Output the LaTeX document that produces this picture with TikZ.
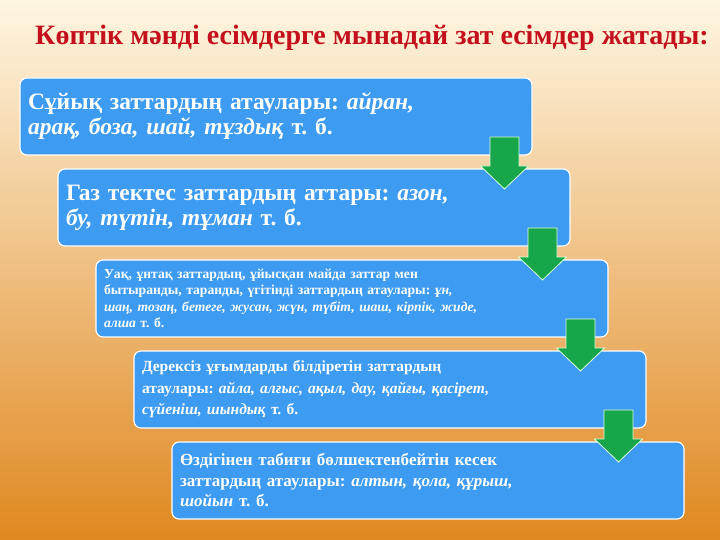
\documentclass[tikz,border=0pt]{standalone}
\usepackage{fontspec}
\setmainfont{Liberation Serif}
\usetikzlibrary{positioning,calc}
\definecolor{bgTop}{HTML}{FEF6E2}
\definecolor{bgMid}{HTML}{FBD055}
\definecolor{bgBot}{HTML}{E08820}
\definecolor{boxBlue}{HTML}{3D9BF2}
\definecolor{arrGreen}{HTML}{17A64A}
\definecolor{titleRed}{HTML}{C4101C}
\frenchspacing

\begin{document}
\begin{tikzpicture}[x=1pt, y=-1pt, node distance = 14pt,
BoxStyle/.style={draw=white, line width=1.2pt, fill=boxBlue, rounded corners=7pt,
                text=white, minimum width=512pt, minimum height=77pt, text width=496pt,
                inner xsep=8pt, inner ysep=0pt, align=left, outer sep=0pt},
DownArrow/.style={fill=arrGreen, draw=green!15, line width=0.8pt},]
\fill [top color=bgTop, middle color=bgMid, bottom color=bgBot] (0,0) rectangle (720,540);
\useasboundingbox (0,0) rectangle (720,540);
\node [font=\fontsize{28}{30}\selectfont\bfseries, text=titleRed] (title) at (372,38)
      {Көптік мәнді есімдерге мынадай зат есімдер жатады:};
\node [BoxStyle, anchor=north west, font=\fontsize{23.5}{25}\selectfont\bfseries] (b1) at (20,78)
      {Сұйық заттардың атаулары: \textit{айран,}\\ \textit{арақ, боза, шай, тұздық} т. б.};
\node [BoxStyle, below=of b1.south west, anchor=north west, xshift=38pt,
       font=\fontsize{23.5}{25}\selectfont\bfseries] (b2)
      {Газ тектес заттардың аттары: \textit{азон,}\\ \textit{бу, түтін, тұман} т. б.};
\node [BoxStyle, below=of b2.south west, anchor=north west, xshift=38pt,
       font=\fontsize{13.6}{16.5}\selectfont\bfseries] (b3)
      {Уақ, ұнтақ заттардың, ұйысқан майда заттар мен\\
       бытыранды, таранды, үгітінді заттардың атаулары: \textit{ұн,}\\
       \textit{шаң, тозаң, бетеге, жусан, жүн, түбіт, шаш, кірпік, жиде,}\\
       \textit{алша} т. б.};
\node [BoxStyle, below=of b3.south west, anchor=north west, xshift=38pt,
       font=\fontsize{15.5}{21.5}\selectfont\bfseries] (b4)
      {Дерексіз ұғымдарды білдіретін заттардың\\
       атаулары: \textit{айла, алғыс, ақыл, дау, қайғы, қасірет,}\\
       \textit{сүйеніш, шындық} т. б.};
\node [BoxStyle, below=of b4.south west, anchor=north west, xshift=38pt,
       font=\fontsize{17}{20.5}\selectfont\bfseries] (b5)
      {Өздігінен табиғи бөлшектенбейтін кесек\\
       заттардың атаулары: \textit{алтын, қола, құрыш,}\\
       \textit{шойын} т. б.};
% arrows between the boxes
\foreach \a/\b in {b1/b2, b2/b3, b3/b4, b4/b5}
  \draw [DownArrow] ($(\a.south east)+(-42,-18)$) -- ($(\a.south east)+(-13,-18)$)
        -- ($(\a.south east)+(-13,11)$) -- ($(\a.south east)+(-3.5,11)$)
        -- ($(\b.north east)+(-65.5,20)$) -- ($(\a.south east)+(-51.5,11)$)
        -- ($(\a.south east)+(-42,11)$) -- cycle;
\end{tikzpicture}
\end{document}
